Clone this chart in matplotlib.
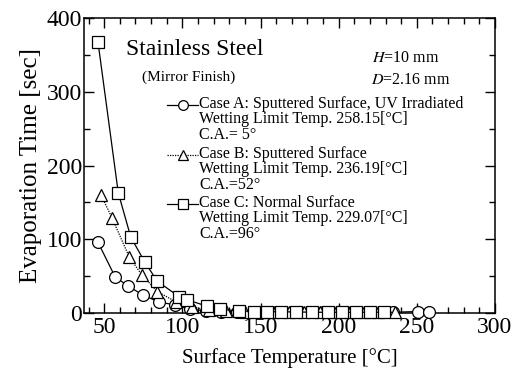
import numpy as np
import matplotlib.pyplot as plt
from matplotlib.ticker import MultipleLocator

plt.rcParams['font.family'] = ['Liberation Serif', 'DejaVu Serif']
plt.rcParams['mathtext.fontset'] = 'stix'

# Case A: Sputtered Surface, UV Irradiated (circles)
tA = [46, 57, 65, 75, 85, 95, 105, 115, 125, 135, 145, 160, 175, 190, 205, 220, 235, 251, 258]
yA = [96, 49, 37, 24, 15, 11, 5, 3, 2, 2, 1.5, 1.5, 1, 1, 1, 1, 1, 2, 1.5]

# Case B: Sputtered Surface (triangles)
tB = [48, 55, 66, 74, 84, 96, 106, 117, 128, 140, 150, 158, 168, 178, 188, 198, 207, 216, 225, 236]
yB = [160, 129, 76, 52, 29, 15, 8, 4, 3, 2, 1.5, 1.5, 1, 1, 1, 1, 1, 1, 1, 1]

# Case C: Normal Surface (squares)
tC = [46, 59, 67, 76, 84, 98, 103, 116, 124, 136, 146, 154, 163, 173, 183, 193, 202, 211, 220, 229]
yC = [368, 163, 103, 69, 43, 22, 18, 9, 5, 3, 2, 2, 1.5, 1.5, 1, 1, 1, 1, 1, 1]

textos = ['Case A: Sputtered Surface, UV Irradiated\nWetting Limit Temp. 258.15[°C]\nC.A.= 5°',
          'Case B: Sputtered Surface\nWetting Limit Temp. 236.19[°C]\nC.A.=52°',
          'Case C: Normal Surface\nWetting Limit Temp. 229.07[°C]\nC.A.=96°']

fig = plt.figure(figsize=(5.21, 3.78), dpi=100)
ax = fig.add_axes([0.161, 0.172, 0.789, 0.780])

estilo = dict(color='k', mfc='white', mec='k', ms=8.5, lw=0.9, mew=0.9, clip_on=False)
ax.plot(tA, yA, 'o-', zorder=3, **estilo)
ax.plot(tB, yB, '^', ls=(0, (1, 1)), zorder=3, **estilo)
ax.plot(tC, yC, 's-', zorder=4, **estilo)

ax.set_xlim(37, 300)
ax.set_ylim(0, 400)
ax.xaxis.set_major_locator(MultipleLocator(50))
ax.xaxis.set_minor_locator(MultipleLocator(10))
ax.yaxis.set_major_locator(MultipleLocator(100))
ax.yaxis.set_minor_locator(MultipleLocator(50))
ax.tick_params(which='both', direction='in', top=True, right=True, width=1)
ax.tick_params(which='major', length=7, labelsize=17, pad=1.5)
ax.tick_params(axis='x', which='major', pad=3)
ax.tick_params(which='minor', length=4)
for s in ax.spines.values():
    s.set_linewidth(1.1)

ax.set_xlabel('Surface Temperature [°C]', fontsize=15, labelpad=7)
ax.set_ylabel('Evaporation Time [sec]', fontsize=18, labelpad=3)

# leyenda dibujada a mano
ax.text(0.102, 0.892, 'Stainless Steel', transform=ax.transAxes, fontsize=17, va='center')
ax.text(0.141, 0.800, '(Mirror Finish)', transform=ax.transAxes, fontsize=11, va='center')
ax.text(0.70, 0.866, r'$\it{H}$=10 mm', transform=ax.transAxes, fontsize=11.5, va='center')
ax.text(0.698, 0.790, r'$\it{D}$=2.16 mm', transform=ax.transAxes, fontsize=11.5, va='center')

marcas = ['o', '^', 's']
lineas = ['-', (0, (1, 1)), '-']
ylegend = [0.705, 0.536, 0.369]
for m, l, yl, t in zip(marcas, lineas, ylegend, textos):
    ax.plot([0.202, 0.278], [yl, yl], ls=l, color='k', lw=0.9, transform=ax.transAxes)
    ax.plot([0.24], [yl], m, mfc='white', mec='k', ms=7, mew=0.9, transform=ax.transAxes)
    ax.text(0.28, yl + 0.032, t, transform=ax.transAxes, fontsize=11.5, va='top',
            linespacing=0.97)

plt.savefig('out.png', dpi=100)
